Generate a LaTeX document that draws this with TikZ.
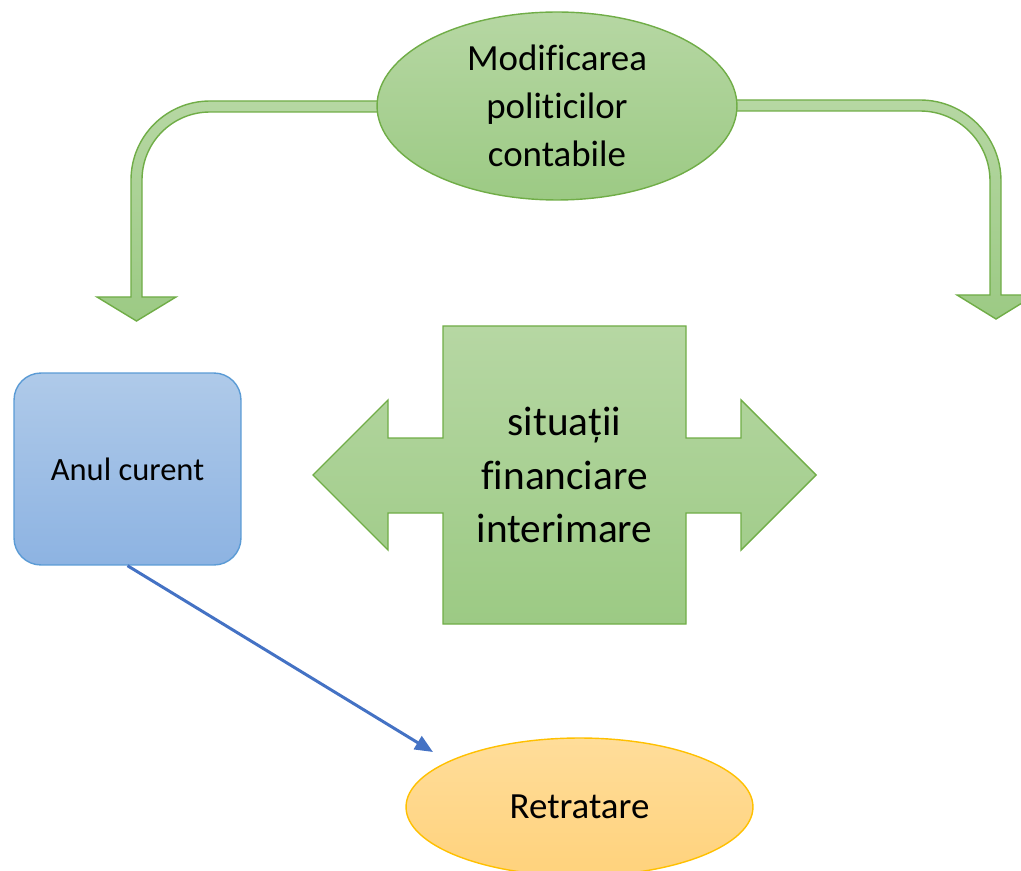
\documentclass[tikz,border=0pt]{standalone}
\usepackage{fontspec}
\setmainfont{Carlito}[Ligatures=NoCommon]
\usetikzlibrary{shapes.geometric,arrows.meta}
\definecolor{greenline}{HTML}{70AD47}
\definecolor{greentop}{HTML}{B6D7A3}
\definecolor{greenbot}{HTML}{9CCA84}
\definecolor{blueline}{HTML}{5B9BD5}
\definecolor{bluetop}{HTML}{AFCAE9}
\definecolor{bluebot}{HTML}{8DB3E2}
\definecolor{orangeline}{HTML}{FFC000}
\definecolor{orangetop}{HTML}{FFDD9A}
\definecolor{orangebot}{HTML}{FFD27C}
\definecolor{linkblue}{HTML}{4472C4}
\tikzset{
  greenshape/.style={draw=greenline, line width=0.8pt, top color=greentop, bottom color=greenbot},
  bluebox/.style={draw=blueline, line width=0.8pt, top color=bluetop, bottom color=bluebot,
    rectangle, rounded corners=0.54cm, minimum width=4.54cm, minimum height=3.84cm},
  orangeoval/.style={draw=orangeline, line width=0.8pt, top color=orangetop, bottom color=orangebot,
    ellipse, minimum width=6.94cm, minimum height=2.76cm, inner sep=0pt}
}
\begin{document}
\begin{tikzpicture}[x=0.02cm, y=0.02cm]
            \useasboundingbox (0,0) rectangle (1021,870);
            \clip (0,0) rectangle (1021,870);
            % bent arrows out of the top oval
            \path[greenshape] (420,769) -- (210,769) arc[start angle=90, end angle=180, radius=79]
                -- (131,573) -- (97,573) -- (136.5,549) -- (176,573) -- (142,573) -- (142,690)
                arc[start angle=180, end angle=90, radius=68] -- (420,758) -- cycle;
            \path[greenshape] (700,770) -- (920,770) arc[start angle=90, end angle=0, radius=81]
                -- (1001,575) -- (1035,575) -- (996,551) -- (957,575) -- (990,575) -- (990,689)
                arc[start angle=0, end angle=90, radius=70] -- (700,759) -- cycle;
            \node[greenshape, ellipse, minimum width=7.2cm, minimum height=3.76cm, inner sep=0pt,
                align=center, font=\fontsize{21}{27.3}\selectfont] (mod) at (557,764)
                {Modificarea\\politicilor\\contabile};
            % double arrow with box
            \path[greenshape] (313,395) -- (388,470) -- (388,432) -- (443,432) -- (443,544)
                -- (686,544) -- (686,432) -- (741,432) -- (741,470) -- (816,395) -- (741,320)
                -- (741,357) -- (686,357) -- (686,246) -- (443,246) -- (443,357) -- (388,357)
                -- (388,320) -- cycle;
            \node[align=center, font=\fontsize{23.5}{30.7}\selectfont] (sit) at (564.5,395)
                {situații\\financiare\\interimare};
            \node[bluebox, font=\fontsize{18.5}{22}\selectfont] (anul) at (127.5,401) {Anul curent};
            \node[orangeoval, font=\fontsize{21}{25}\selectfont] (ret) at (579.5,63) {Retratare};
            \coordinate (rettip) at (433,118);
            \draw[linkblue, line width=1.7pt, -{Triangle[length=0.36cm, width=0.3cm]}]
                (anul.south) -- (rettip);
        \end{tikzpicture}
\end{document}
